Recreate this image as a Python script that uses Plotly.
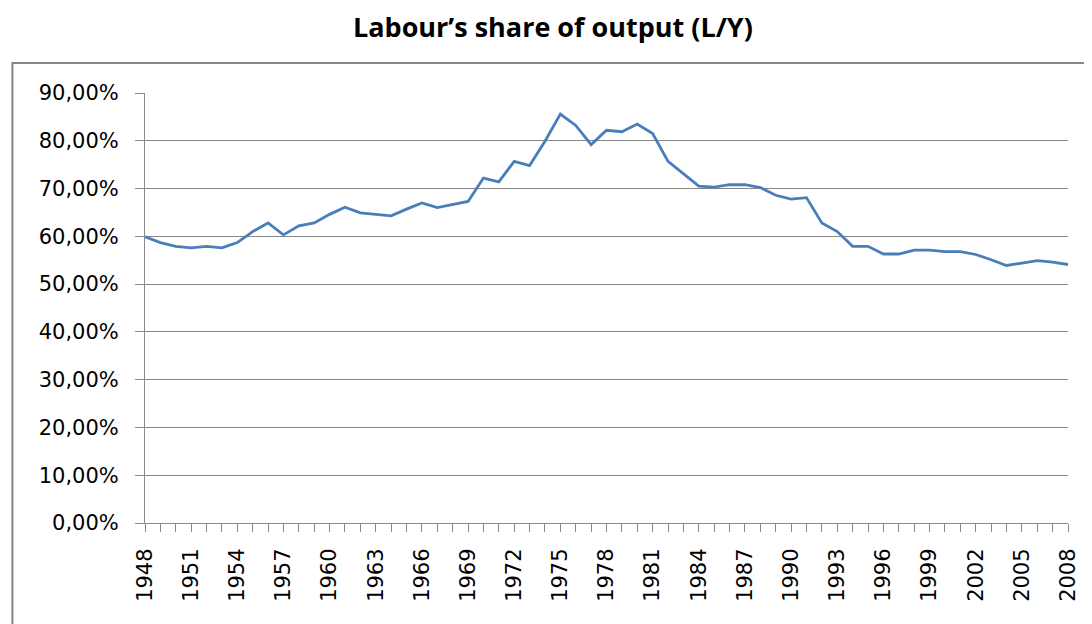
import plotly.graph_objects as go

years = list(range(1948, 2009))
labour_share = [
    59.9, 58.7, 57.9, 57.6, 57.9, 57.6, 58.7, 61.0, 62.8, 60.3,
    62.2, 62.8, 64.6, 66.1, 64.9, 64.6, 64.3, 65.7, 67.0, 66.0,
    66.6, 67.3, 72.2, 71.4, 75.7, 74.8, 79.9, 85.6, 83.2, 79.2,
    82.2, 81.9, 83.5, 81.5, 75.7, 73.1, 70.5, 70.3, 70.8, 70.8,
    70.2, 68.6, 67.8, 68.1, 62.8, 61.0, 57.9, 57.9, 56.3, 56.3,
    57.1, 57.1, 56.8, 56.8, 56.2, 55.1, 53.9, 54.4, 54.9, 54.6,
    54.1,
]
y_ticks = [0, 10, 20, 30, 40, 50, 60, 70, 80, 90]
y_tick_text = ["0,00%", "10,00%", "20,00%", "30,00%", "40,00%", "50,00%",
               "60,00%", "70,00%", "80,00%", "90,00%"]
x_tick_text = [str(y) if (y - 1948) % 3 == 0 else "" for y in years]
title_text = "<b>Labour\u2019s share of output (L/Y)</b>"

OFF = 8  # default page body margin
W, H = 1092 - OFF, 624 - OFF
L, R, T, B = 145 - OFF, 1071 - OFF, 93 - OFF, 523 - OFF

def px(x):
    return (x - OFF - L) / (R - L)

def py(y):
    return (B - (y - OFF)) / (B - T)

fig = go.Figure()
fig.add_trace(go.Scatter(
    x=years, y=labour_share, mode="lines",
    line=dict(color="#4A7EBB", width=2.8),
    hoverinfo="skip", showlegend=False,
))

fig.update_layout(
    width=W, height=H, autosize=False,
    margin=dict(l=L, r=W - R, t=T, b=H - B, pad=0),
    paper_bgcolor="white", plot_bgcolor="white",
    font=dict(family="DejaVu Sans", size=21, color="#000000"),
    showlegend=False,
    xaxis=dict(
        range=[1948, 2008], tickmode="array", tickvals=years, ticktext=x_tick_text,
        tickangle=-90, ticks="outside", ticklen=8, tickcolor="#888888", tickwidth=1,
        showline=True, linecolor="#888888", linewidth=1, showgrid=False,
        zeroline=False, tickfont=dict(family="DejaVu Sans", size=21),
        ticklabelstandoff=8,
    ),
    yaxis=dict(
        range=[0, 90], tickmode="array", tickvals=y_ticks, ticktext=y_tick_text,
        ticks="outside", ticklen=9, tickcolor="#888888", tickwidth=1,
        showline=True, linecolor="#888888", linewidth=1,
        showgrid=True, gridcolor="#868686", gridwidth=1, zeroline=False,
        tickfont=dict(family="DejaVu Sans", size=21),
        ticklabelstandoff=12,
    ),
    shapes=[dict(
        type="rect", xref="paper", yref="paper",
        x0=px(12), x1=px(1100), y0=py(640), y1=py(63),
        line=dict(color="#868686", width=2), fillcolor="rgba(0,0,0,0)",
        layer="below",
    )],
    annotations=[dict(
        text=title_text, xref="paper", yref="paper",
        x=px(554.5), y=py(27), xanchor="center", yanchor="middle",
        showarrow=False, font=dict(family="Open Sans", size=27, color="#000000"),
    )],
)

fig.write_html("out.html")
